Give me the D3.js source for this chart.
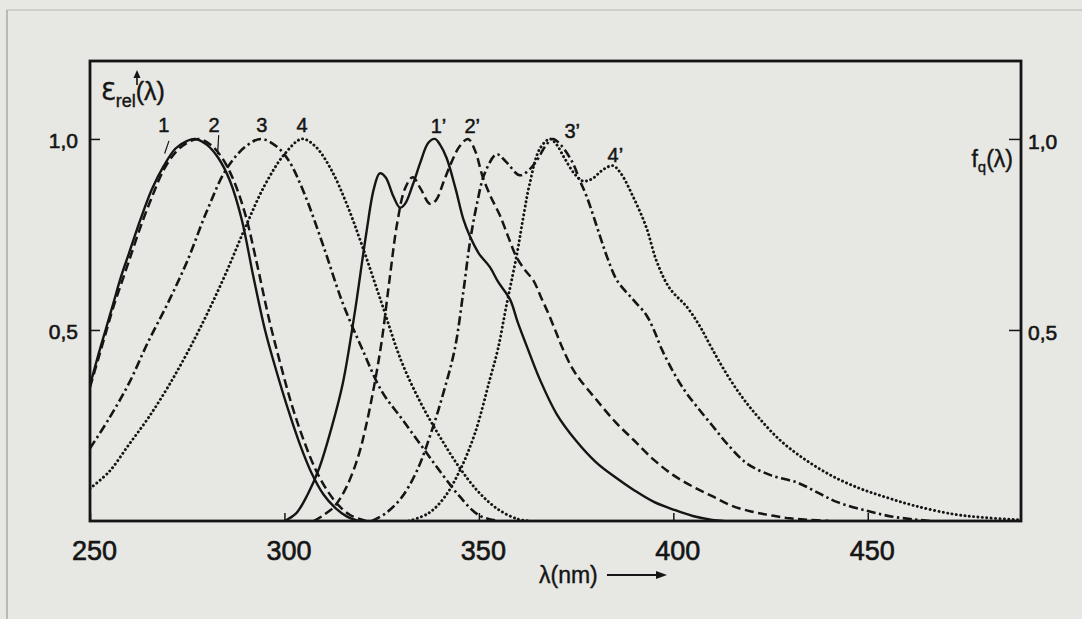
<!DOCTYPE html>
<html>
<head>
<meta charset="utf-8">
<script src="https://cdn.jsdelivr.net/npm/d3@7"></script>
<style>
  html, body { margin: 0; padding: 0; background: #e7e7e3; }
  svg { display: block; font-family: "Liberation Sans", Arial, "DejaVu Sans", sans-serif; }
</style>
</head>
<body>
<div class="chart"></div>
<script>
// absorption spectra (nm, relative value)
var abs1 = [[250,.355],[252,.43],[254,.5],[256,.57],[258,.64],[260,.7],[263,.79],[266,.87],[269,.93],[272,.975],[275,.995],[277,1.0],[280,.985],[283,.95],[286,.89],[289,.79],[292,.64],[295,.5],[298,.39],[301,.29],[304,.2],[307,.125],[310,.07],[313,.035],[316,.012],[319,0]];
var abs2 = [[250,.35],[252,.42],[254,.49],[256,.56],[258,.62],[260,.68],[263,.77],[266,.85],[269,.92],[272,.965],[275,.99],[278,1.0],[281,.985],[284,.95],[287,.89],[290,.8],[293,.67],[296,.53],[299,.41],[302,.3],[305,.21],[308,.135],[311,.08],[314,.04],[317,.015],[321,0]];
var abs3 = [[250,.19],[255,.27],[260,.36],[265,.47],[270,.57],[275,.68],[280,.81],[285,.92],[290,.98],[294,1.0],[298,.98],[301,.945],[305,.86],[310,.72],[315,.57],[320,.45],[325,.34],[330,.27],[335,.2],[340,.13],[345,.065],[350,.015],[355,0]];
var abs4 = [[250,.085],[255,.13],[260,.2],[265,.27],[270,.35],[275,.44],[280,.54],[285,.65],[290,.77],[295,.88],[300,.96],[304.5,1.0],[308,.98],[312,.92],[316,.83],[320,.72],[325,.57],[330,.42],[335,.31],[340,.22],[345,.14],[350,.075],[355,.03],[360,.005],[363,0]];

// fluorescence spectra (nm, relative value)
var em1 = [[300,0],[303,.02],[306,.07],[309,.14],[312,.24],[315,.36],[318,.54],[321,.75],[323,.87],[324.5,.91],[326,.9],[328,.85],[329.7,.82],[331,.83],[333,.88],[335,.94],[337,.99],[338.7,1.0],[340,.985],[341.7,.95],[344,.87],[346,.79],[347.7,.745],[350,.7],[352.8,.665],[355,.625],[358,.58],[360,.52],[362.6,.45],[365.7,.37],[370,.28],[375,.21],[380,.155],[385,.115],[390,.08],[395,.05],[400,.03],[405,.013],[410,.003],[413,0]];
var em2 = [[307.5,0],[310,.015],[313,.04],[316,.09],[319,.17],[321,.25],[323,.35],[325,.47],[327,.63],[329,.78],[331,.87],[333,.9],[335,.87],[337.4,.83],[339,.84],[341,.89],[343,.94],[345,.98],[347.2,1.0],[349,.97],[351,.9],[353,.85],[355.4,.8],[357.5,.745],[359.7,.69],[362,.655],[364,.63],[366,.585],[368,.54],[370,.49],[371.6,.45],[374,.4],[376,.37],[380,.32],[385,.26],[390,.21],[395,.16],[400,.12],[405,.09],[410,.065],[415,.04],[420,.025],[425,.015],[430,.007],[435,.003],[440,0]];
var em3 = [[322.5,0],[326,.02],[330,.06],[334,.13],[338,.24],[341,.34],[343.8,.45],[346,.6],[347.7,.73],[349.5,.83],[351.5,.91],[354.6,.96],[357,.94],[360.5,.905],[363,.92],[365,.945],[367,.98],[369,1.0],[371,.985],[374,.94],[376,.89],[377.7,.85],[381,.75],[383,.69],[385.5,.63],[389.6,.58],[393,.54],[395,.5],[397,.45],[400,.39],[403,.34],[406,.3],[410,.25],[414,.2],[419,.15],[425,.12],[432,.1],[437,.075],[442,.05],[450,.026],[456,.012],[462,.004],[466,0]];
var em4 = [[332,0],[337,.02],[341,.06],[345,.13],[349,.23],[352.8,.37],[354.9,.45],[357,.56],[359.8,.7],[361.5,.8],[363,.88],[365.7,.975],[368.3,1.0],[370,.985],[372,.95],[374.5,.91],[376.7,.89],[379,.895],[382,.92],[384.5,.93],[386.5,.91],[389.6,.85],[393,.77],[395.7,.68],[399,.61],[403.5,.56],[406.8,.51],[410,.45],[414,.38],[418,.32],[422,.27],[427.6,.21],[434,.16],[441,.117],[448,.085],[454.4,.063],[462,.04],[472,.018],[480,.009],[489.5,.003]];

var xTicks = [250, 300, 350, 400, 450];
var yTicks = [0.5, 1.0];

var svgWidth = 1082;
var svgHeight = 619;

var x = d3.scaleLinear().domain([250, 489.4]).range([90, 1021]);
var y = d3.scaleLinear().domain([0, 1.204]).range([521, 61]);

var ink = "#151515";

var svg = d3.select(".chart")
    .append("svg")
    .attr("width", svgWidth)
    .attr("height", svgHeight);

// page edge from the scan
svg.append("line").attr("x1", 7).attr("x2", 7).attr("y1", 10).attr("y2", svgHeight)
    .attr("stroke", "#9a9a98").attr("stroke-width", 1.2);
svg.append("line").attr("x1", 7).attr("x2", svgWidth).attr("y1", 10).attr("y2", 10)
    .attr("stroke", "#b4b4b0").attr("stroke-width", 1);

svg.append("clipPath").attr("id", "plot")
    .append("rect")
    .attr("x", x(250)).attr("y", y(1.204))
    .attr("width", x(489.4) - x(250)).attr("height", y(0) - y(1.204));

var chart = svg.append("g");

// curves
var line = d3.line()
    .x(function (d) { return x(d[0]); })
    .y(function (d) { return y(d[1]); })
    .curve(d3.curveCatmullRom.alpha(0.5));

var styles = {
    solid: { dash: null, width: 2.4, cap: "butt" },
    dashed: { dash: "9,4.5", width: 2.5, cap: "butt" },
    dashdot: { dash: "9,3.5,2.4,3.5", width: 2.6, cap: "butt" },
    dotted: { dash: "0.1,4.3", width: 2.9, cap: "round" }
};

var series = [
    { data: abs1, style: "solid" },
    { data: abs2, style: "dashed" },
    { data: abs3, style: "dashdot" },
    { data: abs4, style: "dotted" },
    { data: em1, style: "solid" },
    { data: em2, style: "dashed" },
    { data: em3, style: "dashdot" },
    { data: em4, style: "dotted" }
];

chart.append("g")
    .attr("clip-path", "url(#plot)")
    .selectAll("path")
    .data(series)
    .enter()
    .append("path")
    .attr("d", function (d) { return line(d.data); })
    .attr("fill", "none")
    .attr("stroke", ink)
    .attr("stroke-width", function (d) { return styles[d.style].width; })
    .attr("stroke-dasharray", function (d) { return styles[d.style].dash; })
    .attr("stroke-linecap", function (d) { return styles[d.style].cap; })
    .attr("stroke-linejoin", "round");

// axes
var fmt = function (d) { return d3.format(".1f")(d).replace(".", ","); };

var xAxis = chart.append("g")
    .attr("transform", "translate(0," + y(0) + ")")
    .call(d3.axisBottom(x).tickValues(xTicks).tickSize(-8).tickPadding(20).tickFormat(d3.format("d")));

var yAxisL = chart.append("g")
    .attr("transform", "translate(" + x(250) + ",0)")
    .call(d3.axisLeft(y).tickValues(yTicks).tickSize(-10).tickPadding(12).tickFormat(fmt));

var yAxisR = chart.append("g")
    .attr("transform", "translate(" + x(489.4) + ",0)")
    .call(d3.axisRight(y).tickValues(yTicks).tickSize(-12).tickPadding(7).tickFormat(fmt));

[xAxis, yAxisL, yAxisR].forEach(function (g) {
    g.select(".domain").remove();
    g.selectAll(".tick line").attr("stroke", ink).attr("stroke-width", 1.5);
    g.selectAll(".tick text")
        .attr("fill", ink)
        .attr("stroke", ink)
        .attr("stroke-width", 0.6)
        .attr("font-family", "Liberation Sans, Arial, sans-serif");
});
xAxis.selectAll(".tick text").attr("font-size", 27).attr("dx", 4);
yAxisL.selectAll(".tick text").attr("font-size", 21).attr("dy", "0.42em");
yAxisR.selectAll(".tick text").attr("font-size", 21).attr("dy", "0.45em");

// frame
chart.append("rect")
    .attr("x", x(250)).attr("y", y(1.204))
    .attr("width", x(489.4) - x(250)).attr("height", y(0) - y(1.204))
    .attr("fill", "none")
    .attr("stroke", ink)
    .attr("stroke-width", 2.8);

// curve labels
var labelG = chart.append("g")
    .attr("fill", ink).attr("stroke", ink).attr("stroke-width", 0.5)
    .attr("font-size", 20).attr("text-anchor", "middle");
[["1", 269.0, 1.018], ["2", 281.9, 1.018], ["3", 294.2, 1.018], ["4", 304.5, 1.018],
 ["1\u2019", 339.6, 1.016], ["2\u2019", 348.3, 1.016], ["3\u2019", 374.0, 1.003], ["4\u2019", 385.1, 0.94]]
    .forEach(function (l) {
        labelG.append("text").attr("x", x(l[1])).attr("y", y(l[2])).text(l[0]);
    });

// leader strokes under labels 1 and 2
chart.append("line").attr("x1", x(270.3)).attr("y1", y(0.995)).attr("x2", x(269.2)).attr("y2", y(0.962))
    .attr("stroke", ink).attr("stroke-width", 1.2);
chart.append("line").attr("x1", x(283.1)).attr("y1", y(1.01)).attr("x2", x(282.8)).attr("y2", y(0.96))
    .attr("stroke", ink).attr("stroke-width", 1.2);

// left axis title: epsilon_rel(lambda) with arrow
var tl = chart.append("text").attr("x", 101).attr("y", 100).attr("fill", ink)
    .attr("stroke", ink).attr("stroke-width", 0.4).attr("font-size", 25);
tl.append("tspan").attr("font-family", "DejaVu Sans, sans-serif").attr("font-size", 24).text("\u0190");
tl.append("tspan").attr("font-size", 18).attr("dy", 7).text("rel");
tl.append("tspan").attr("dy", -7).text("(\u03bb)");
chart.append("line").attr("x1", 137).attr("x2", 137).attr("y1", 85).attr("y2", 76)
    .attr("stroke", ink).attr("stroke-width", 1.6);
chart.append("path").attr("d", "M133.5,78 L137,70 L140.5,78 Z").attr("fill", ink);

// right axis title: f_q(lambda)
var tr = chart.append("text").attr("x", 1013).attr("y", 167).attr("text-anchor", "end")
    .attr("fill", ink).attr("stroke", ink).attr("stroke-width", 0.4).attr("font-size", 23);
tr.append("tspan").text("f");
tr.append("tspan").attr("font-size", 15).attr("dy", 5).text("q");
tr.append("tspan").attr("dy", -5).text("(\u03bb)");

// x axis title with arrow
chart.append("text").attr("x", 539).attr("y", 583).attr("fill", ink)
    .attr("stroke", ink).attr("stroke-width", 0.4).attr("font-size", 23).text("\u03bb(nm)");
chart.append("line").attr("x1", 607).attr("x2", 658).attr("y1", 575).attr("y2", 575)
    .attr("stroke", ink).attr("stroke-width", 1.8);
chart.append("path").attr("d", "M656,571 L667,575 L656,579 Z").attr("fill", ink);
</script>
</body>
</html>
